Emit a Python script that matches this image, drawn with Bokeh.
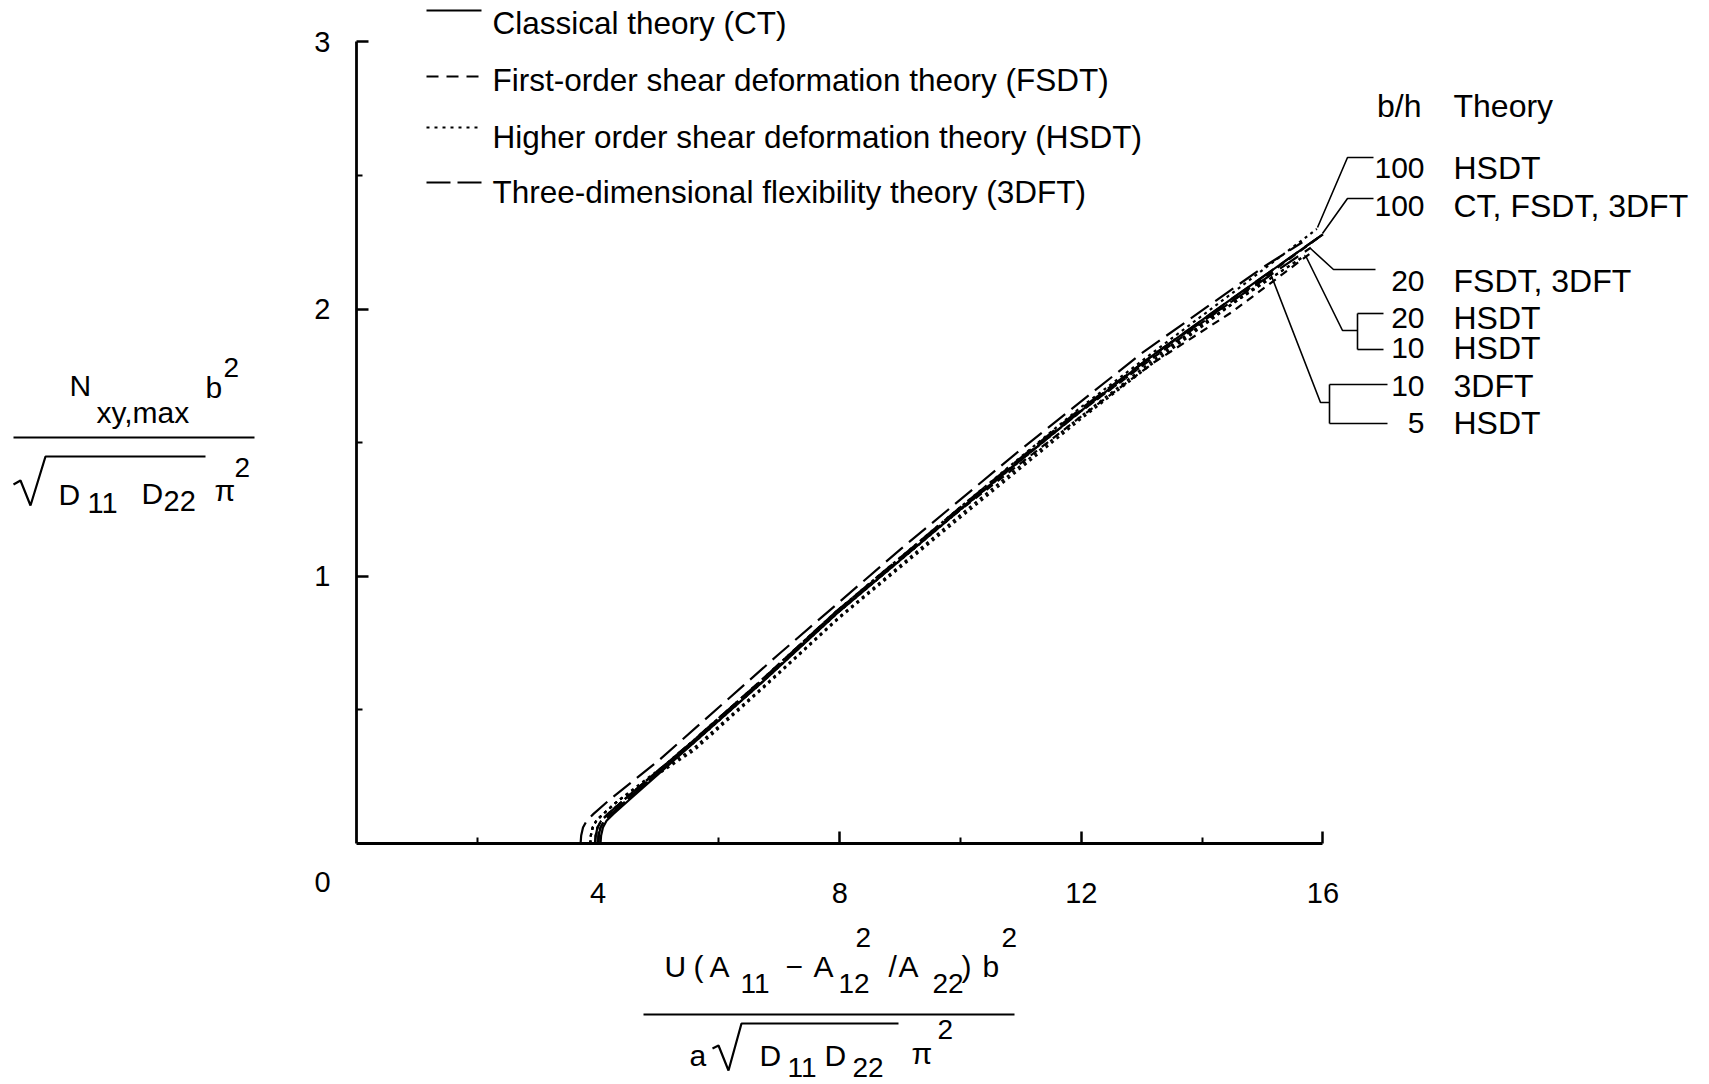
from bokeh.plotting import figure
from bokeh.models import FixedTicker, Range1d, ColumnDataSource
from bokeh.core.properties import value
from bokeh.embed import file_html
from bokeh.resources import INLINE

# ------------------------------------------------------------------ data
x_ticks = [4, 8, 12, 16]
x_minor = [2, 6, 10, 14]
y_ticks = [1, 2, 3]
y_minor = [0.5, 1.5, 2.5]

ct100_x = [4.04, 4.05, 4.08, 4.14, 4.25, 4.50, 5.60, 6.70, 8.00, 10.0, 12.0, 13.2, 14.5, 16.0]
ct100_y = [0.00, 0.03, 0.06, 0.085, 0.11, 0.16, 0.38, 0.60, 0.87, 1.25, 1.62, 1.83, 2.04, 2.28]

fsdt100_x = [4.00, 4.01, 4.04, 4.10, 4.21, 4.46, 5.58, 6.68, 7.98, 9.98, 11.98, 13.2, 14.5, 16.0]
fsdt100_y = [0.00, 0.03, 0.06, 0.085, 0.11, 0.16, 0.38, 0.60, 0.87, 1.25, 1.615, 1.82, 2.03, 2.28]

fsdt20_x = [3.95, 3.96, 3.99, 4.05, 4.16, 4.41, 5.55, 6.65, 7.95, 9.95, 11.95, 13.2, 14.5, 15.8]
fsdt20_y = [0.00, 0.03, 0.06, 0.085, 0.11, 0.16, 0.38, 0.60, 0.87, 1.24, 1.59, 1.80, 1.99, 2.21]

hsdt100_x = [3.95, 3.96, 3.99, 4.05, 4.16, 4.41, 5.55, 6.65, 7.95, 9.95, 11.95, 13.2, 14.5, 15.9]
hsdt100_y = [0.00, 0.03, 0.06, 0.085, 0.11, 0.16, 0.38, 0.60, 0.87, 1.25, 1.625, 1.84, 2.06, 2.30]

hsdt20_x = [3.87, 3.88, 3.91, 3.97, 4.08, 4.33, 5.55, 6.65, 7.95, 9.95, 11.95, 13.2, 14.5, 15.7]
hsdt20_y = [0.00, 0.03, 0.06, 0.085, 0.11, 0.16, 0.37, 0.59, 0.86, 1.24, 1.61, 1.82, 2.02, 2.20]

hsdt10_x = [3.87, 3.88, 3.91, 3.97, 4.08, 4.33, 5.60, 6.70, 8.00, 10.0, 12.0, 13.2, 14.5, 15.7]
hsdt10_y = [0.00, 0.03, 0.06, 0.085, 0.11, 0.16, 0.36, 0.58, 0.85, 1.23, 1.60, 1.81, 2.02, 2.20]

hsdt5_x = [3.87, 3.88, 3.91, 3.97, 4.08, 4.33, 5.60, 6.70, 8.00, 10.0, 12.0, 13.2, 15.1]
hsdt5_y = [0.00, 0.03, 0.06, 0.085, 0.11, 0.16, 0.35, 0.575, 0.845, 1.22, 1.59, 1.80, 2.12]

dft100_x = [4.00, 4.01, 4.04, 4.10, 4.21, 4.46, 5.58, 6.68, 7.98, 9.98, 11.98, 13.2, 14.5, 16.0]
dft100_y = [0.00, 0.03, 0.06, 0.085, 0.11, 0.16, 0.38, 0.60, 0.87, 1.25, 1.62, 1.83, 2.04, 2.28]

dft20_x = [3.95, 3.96, 3.99, 4.05, 4.16, 4.41, 5.55, 6.65, 7.95, 9.95, 11.95, 13.2, 14.5, 15.8]
dft20_y = [0.00, 0.03, 0.06, 0.085, 0.11, 0.16, 0.38, 0.60, 0.87, 1.25, 1.62, 1.83, 2.03, 2.23]

dft10_x = [3.71, 3.72, 3.75, 3.81, 3.92, 4.17, 5.00, 7.00, 9.00, 11.0, 13.0, 15.0, 15.66]
dft10_y = [0.00, 0.03, 0.06, 0.085, 0.11, 0.16, 0.31, 0.71, 1.10, 1.475, 1.835, 2.155, 2.25]

series_theory = ["CT", "FSDT", "FSDT", "HSDT", "HSDT", "HSDT", "HSDT", "3DFT", "3DFT", "3DFT"]
series_bh = [100, 100, 20, 100, 20, 10, 5, 100, 20, 10]
series_x = [ct100_x, fsdt100_x, fsdt20_x, hsdt100_x, hsdt20_x, hsdt10_x, hsdt5_x, dft100_x, dft20_x, dft10_x]
series_y = [ct100_y, fsdt100_y, fsdt20_y, hsdt100_y, hsdt20_y, hsdt10_y, hsdt5_y, dft100_y, dft20_y, dft10_y]

legend_names = ["Classical theory (CT)",
                "First-order shear deformation theory (FSDT)",
                "Higher order shear deformation theory (HSDT)",
                "Three-dimensional flexibility theory (3DFT)"]
legend_theory = ["CT", "FSDT", "HSDT", "3DFT"]

label_bh = ["100", "100", "20", "20", "10", "10", "5"]
label_theory = ["HSDT", "CT, FSDT, 3DFT", "FSDT, 3DFT", "HSDT", "HSDT", "3DFT", "HSDT"]

# ------------------------------------------------------------------ layout
W, H = 1709, 1084
AX_X, AX_Y = 356, 843          # pixel position of the origin
SX, SY = 60.4, 267.2           # pixels per unit


def dx(px):
    return (px - AX_X) / SX


def dy(py):
    return (AX_Y - py) / SY


FONT = value("Liberation Sans")
curve_dash = {"CT": "solid", "FSDT": "8 6", "HSDT": "3 4", "3DFT": "22 8"}
legend_dash = {"CT": "solid", "FSDT": "12 8", "HSDT": "3 5", "3DFT": "24 7"}

p = figure(width=W, height=H, x_range=Range1d(dx(0), dx(W)), y_range=Range1d(dy(H), dy(0)),
           output_backend="svg", toolbar_location=None, min_border=0)
p.outline_line_color = None
p.grid.visible = False
p.background_fill_color = "white"
p.border_fill_color = "white"

for ax in (p.xaxis[0], p.yaxis[0]):
    ax.fixed_location = 0
    ax.axis_line_width = 2.8
    ax.axis_line_color = "black"
    ax.major_tick_in = 12
    ax.major_tick_out = 0
    ax.minor_tick_in = 6
    ax.minor_tick_out = 0
    ax.major_tick_line_width = 2.5
    ax.minor_tick_line_width = 2
    ax.major_label_text_font = "Liberation Sans"
    ax.major_label_text_font_size = "29px"
    ax.major_label_text_color = "black"

p.xaxis[0].bounds = (0, 16)
p.xaxis[0].ticker = FixedTicker(ticks=x_ticks, minor_ticks=x_minor)
p.xaxis[0].major_label_standoff = 39
p.yaxis[0].bounds = (0, 3)
p.yaxis[0].ticker = FixedTicker(ticks=y_ticks, minor_ticks=y_minor)
p.yaxis[0].major_label_standoff = 26

# curves
for th, bh, xs, ys in zip(series_theory, series_bh, series_x, series_y):
    p.line(xs, ys, line_color="black", line_width=2.2, line_dash=curve_dash[th])

# legend (manual, upper left)
leg_line_y = [10, 76, 127, 182]
leg_text_base = [22, 79, 136, 191]
for th, ly in zip(legend_theory, leg_line_y):
    p.segment(x0=[dx(426)], y0=[dy(ly)], x1=[dx(481)], y1=[dy(ly)], line_color="black",
              line_width=2, line_dash=legend_dash[th])
p.text(x=[dx(492)] * 4, y=[dy(b) for b in leg_text_base], text=legend_names,
       text_font=FONT, text_font_size=value("31.5px"), text_align="left",
       text_baseline="alphabetic", text_color="black")

# right-hand labels
row_y = [167, 205, 280, 317, 347, 385, 422]
p.text(x=[dx(1424)] * 7, y=[dy(r) for r in row_y], text=label_bh, text_font=FONT,
       text_font_size=value("30px"), text_align="right", text_baseline="middle")
p.text(x=[dx(1453)] * 7, y=[dy(r) for r in row_y], text=label_theory, text_font=FONT,
       text_font_size=value("32px"), text_align="left", text_baseline="middle")
p.text(x=[dx(1421)], y=[dy(105)], text=["b/h"], text_font=FONT,
       text_font_size=value("32px"), text_align="right", text_baseline="middle")
p.text(x=[dx(1453)], y=[dy(105)], text=["Theory"], text_font=FONT,
       text_font_size=value("32px"), text_align="left", text_baseline="middle")

# leader lines (pixel paths)
leaders_px = [
    [(1317, 227), (1347, 157), (1373, 157)],
    [(1322, 233), (1347, 198), (1373, 198)],
    [(1310, 248), (1333, 269), (1375, 269)],
    [(1305, 255), (1342, 330), (1357, 330)],
    [(1357, 313), (1357, 349)],
    [(1357, 313), (1383, 313)],
    [(1357, 349), (1383, 349)],
    [(1270, 273), (1320, 402), (1329, 402)],
    [(1329, 384), (1329, 423)],
    [(1329, 384), (1387, 384)],
    [(1329, 423), (1387, 423)],
]
p.multi_line(xs=[[dx(a) for a, b in L] for L in leaders_px],
             ys=[[dy(b) for a, b in L] for L in leaders_px],
             line_color="black", line_width=1.6)

# origin label
p.text(x=[dx(322)], y=[dy(881)], text=["0"], text_font=FONT, text_font_size=value("29px"),
       text_align="center", text_baseline="middle")

# axis titles built from pieces: (text, left px, baseline px, size)
pieces = [
    # y title numerator
    ("N", 69, 385, "30px"), ("xy,max", 96, 412, "30px"), ("b", 205, 387, "30px"), ("2", 223, 367, "28px"),
    # y title denominator
    ("D", 58, 494, "30px"), ("11", 87, 502, "29px"), ("D", 141, 493, "30px"), ("22", 163, 500, "29px"),
    ("\u03c0", 214, 490, "30px"), ("2", 234, 467, "28px"),
    # x title numerator
    ("U", 664, 966, "30px"), ("(", 693, 966, "30px"), ("A", 709, 966, "30px"), ("11", 740, 983, "28px"),
    ("\u2212", 785, 966, "30px"), ("A", 813, 966, "30px"), ("2", 855, 937, "28px"), ("12", 838, 983, "28px"),
    ("/", 888, 966, "30px"), ("A", 898, 966, "30px"), ("22", 932, 983, "28px"), (")", 961, 966, "30px"),
    ("b", 982, 966, "30px"), ("2", 1001, 937, "28px"),
    # x title denominator
    ("a", 689, 1055, "30px"), ("D", 759, 1055, "30px"), ("11", 787, 1067, "28px"), ("D", 824, 1055, "30px"),
    ("22", 852, 1067, "28px"), ("\u03c0", 911, 1053, "30px"), ("2", 937, 1029, "28px"),
]
src = ColumnDataSource(dict(
    x=[dx(a) for t, a, b, s in pieces], y=[dy(b) for t, a, b, s in pieces],
    text=[t for t, a, b, s in pieces], size=[s for t, a, b, s in pieces]))
p.text(x="x", y="y", text="text", text_font_size="size", text_font=FONT, source=src,
       text_align="left", text_baseline="alphabetic", text_color="black")

# fraction bars and radicals
rules_px = [
    [(13, 437), (254, 437)],
    [(13, 484), (20, 480), (30, 505), (45, 456), (205, 456)],
    [(643, 1014), (1014, 1014)],
    [(712, 1048), (718, 1045), (728, 1070), (741, 1023), (898, 1023)],
]
p.multi_line(xs=[[dx(a) for a, b in L] for L in rules_px],
             ys=[[dy(b) for a, b in L] for L in rules_px],
             line_color="black", line_width=2.2)

open("out.html", "w").write(file_html(p, INLINE))
